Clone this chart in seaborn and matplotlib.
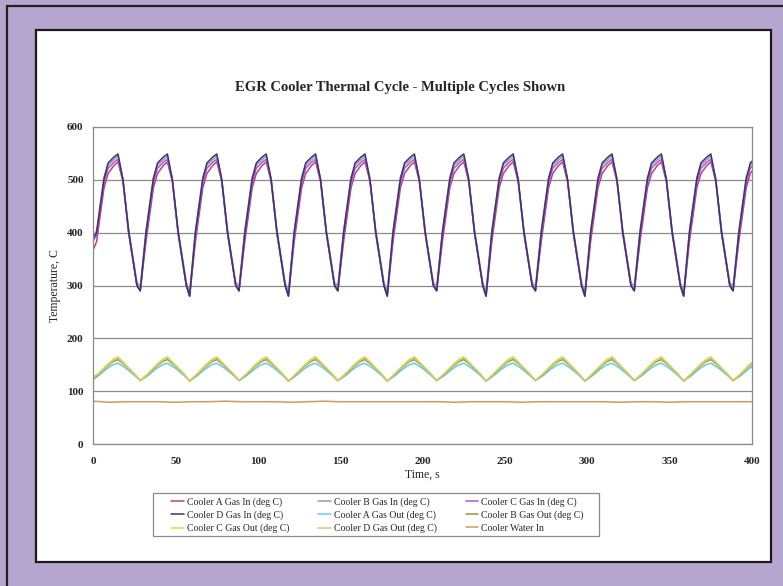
import numpy as np
import pandas as pd
import seaborn as sns
import matplotlib.pyplot as plt
from matplotlib.patches import Rectangle

# ---- data ----
# peaks of the gas-in / gas-out cycles (s); last one lies just past the axis end
peak_times = [15, 45, 75, 105, 135, 165, 195, 225, 255, 285, 315, 345, 375, 405]
trough_lag = 13.5  # trough comes this many seconds after each peak

# gas-in troughs after each peak (alternating a little)
trough_in = [290, 280, 290, 280, 290, 280, 290, 280, 290, 280, 290, 280, 290]
# gas-out troughs after each peak
trough_out = [120, 119, 120, 119, 120, 119, 120, 119, 120, 119, 120, 119, 120]

# shape of one gas-in cycle, seconds relative to the peak
in_offsets = [-13, -8.5, -6, -2.5, 0, 3, 6.5, 11.5]
cooler_a_in = [383, 485, 512, 527, 534, 497, 398, 300]
cooler_b_in = [404, 505, 528, 538, 545, 502, 405, 306]
cooler_c_in = [395, 495, 522, 533, 539, 500, 400, 300]
cooler_d_in = [400, 502, 532, 543, 549, 500, 402, 300]
in_trough_lift = [0, 8, 0, 0]          # A, B, C, D
in_start = [368, 392, 385, 390]        # value at t = 0

# shape of one gas-out cycle, seconds relative to the peak
out_offsets = [-12, -7, -3, 0, 5, 10]
cooler_a_out = [129, 142, 150, 153, 143, 130]
cooler_b_out = [131, 146, 156, 160, 147, 132]
cooler_c_out = [133, 149, 160, 165, 149, 133]
cooler_d_out = [132, 147, 158, 163, 148, 132]
out_start = [122, 125, 127, 126]

# cooling water, nearly flat
water_time = [0, 10, 20, 30, 40, 50, 60, 70, 80, 90, 100, 110, 120, 130, 140,
              150, 160, 170, 180, 190, 200, 210, 220, 230, 240, 250, 260, 270,
              280, 290, 300, 310, 320, 330, 340, 350, 360, 370, 380, 390, 400]
water_in = [81, 79, 80, 80, 80, 79, 80, 80, 81, 80, 80, 80, 79, 80, 81,
            80, 80, 80, 80, 80, 80, 80, 79, 80, 80, 80, 79, 80,
            80, 80, 80, 80, 79, 80, 80, 79, 80, 80, 80, 80, 80]

names = ["Cooler A Gas In (deg C)", "Cooler B Gas In (deg C)", "Cooler C Gas In (deg C)",
         "Cooler D Gas In (deg C)", "Cooler A Gas Out (deg C)", "Cooler B Gas Out (deg C)",
         "Cooler C Gas Out (deg C)", "Cooler D Gas Out (deg C)", "Cooler Water In"]
colors = ["#C2407A", "#9C97A8", "#A45BD0", "#3A3472", "#6CCAE8",
          "#7FA33A", "#D2E04A", "#D6C872", "#CF9B5E"]


def build(start, offsets, shape, troughs, lift):
    t, v = [0.0], [start]
    for k, p in enumerate(peak_times):
        for o, s in zip(offsets, shape):
            if p + o > 0:
                t.append(p + o)
                v.append(s)
        if k < len(troughs):
            t.append(p + trough_lag)
            v.append(troughs[k] + lift)
    return t, v


frames = []
gas_in = [cooler_a_in, cooler_b_in, cooler_c_in, cooler_d_in]
for i, shape in enumerate(gas_in):
    t, v = build(in_start[i], in_offsets, shape, trough_in, in_trough_lift[i])
    frames.append(pd.DataFrame({"time": t, "temp": v, "series": names[i]}))
gas_out = [cooler_a_out, cooler_b_out, cooler_c_out, cooler_d_out]
for i, shape in enumerate(gas_out):
    t, v = build(out_start[i], out_offsets, shape, trough_out, 0)
    frames.append(pd.DataFrame({"time": t, "temp": v, "series": names[4 + i]}))
frames.append(pd.DataFrame({"time": water_time, "temp": water_in, "series": names[8]}))
df = pd.concat(frames, ignore_index=True)

# ---- figure ----
sns.set_theme(style="white")
plt.rcParams["font.family"] = ["Liberation Serif", "DejaVu Serif"]

W, H = 783, 586
fig = plt.figure(figsize=(W / 100, H / 100), dpi=100, facecolor="#B4A6CF")
# dark outer frame line and the white chart panel
fig.add_artist(Rectangle((7 / W, -0.2), 1.2, 1.2 - 6 / H, transform=fig.transFigure,
                         facecolor="none", edgecolor="#222222", lw=1.6, zorder=-2))
fig.add_artist(Rectangle((36 / W, 1 - 562 / H), (771 - 36) / W, (562 - 30) / H,
                         transform=fig.transFigure, facecolor="white",
                         edgecolor="#1a1a1a", lw=1.6, zorder=-1))
# legend box
fig.add_artist(Rectangle((153 / W, 1 - 536 / H), (599 - 153) / W, (536 - 493) / H,
                         transform=fig.transFigure, facecolor="white",
                         edgecolor="#8a8a8a", lw=0.9, zorder=-0.5))

ax = fig.add_axes([93.3 / W, 1 - 444 / H, (752 - 93.3) / W, (444 - 127) / H])
ax.set_facecolor("white")

sns.lineplot(data=df, x="time", y="temp", hue="series", hue_order=names,
             palette=colors, estimator=None, sort=True, lw=1.1, ax=ax)

ax.set_xlim(0, 400)
ax.set_ylim(0, 600)
ax.set_xticks(np.arange(0, 401, 50))
ax.set_yticks(np.arange(0, 601, 100))
ax.yaxis.grid(True, color="#8a8a8a", lw=0.9)
ax.set_axisbelow(True)
for sp in ax.spines.values():
    sp.set_color("#8a8a8a")
    sp.set_linewidth(0.9)
ax.tick_params(axis="y", direction="out", length=4, width=0.9, color="#8a8a8a",
               labelsize=8, pad=3)
ax.tick_params(axis="x", direction="inout", length=6, width=0.9, color="#8a8a8a",
               labelsize=8, pad=6)
for lab in ax.get_xticklabels() + ax.get_yticklabels():
    lab.set_fontweight("bold")

ax.set_xlabel("Time, s", fontsize=8.5, labelpad=2)
ax.set_ylabel("Temperature, C", fontsize=8.5, labelpad=4)
fig.text(0.511, 1 - 88 / H, "EGR Cooler Thermal Cycle - Multiple Cycles Shown",
         ha="center", va="center", fontsize=10.5, fontweight="bold")

# legend, filled row by row like the original
handles, labels = ax.get_legend_handles_labels()
order = [0, 3, 6, 1, 4, 7, 2, 5, 8]
ax.legend([handles[i] for i in order], [labels[i] for i in order], ncol=3,
          loc="upper left", bbox_to_anchor=(171 / W, 1 - 497 / H),
          bbox_transform=fig.transFigure, fontsize=7, frameon=False,
          handlelength=1.3, handletextpad=0.3, columnspacing=3.0,
          labelspacing=0.38, borderpad=0, borderaxespad=0)

fig.savefig("out.png", dpi=100, facecolor=fig.get_facecolor())
